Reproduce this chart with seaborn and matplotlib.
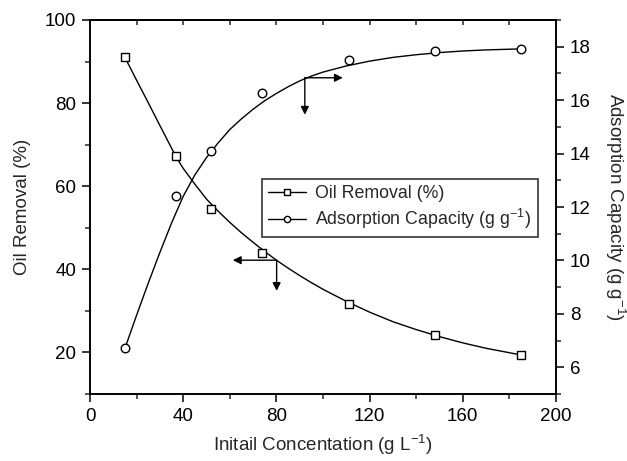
import matplotlib
matplotlib.use("Agg")
import matplotlib.pyplot as plt
import seaborn as sns
import pandas as pd
from matplotlib.lines import Line2D
from matplotlib.ticker import MultipleLocator

# ---- data ----
conc = [15, 37, 52, 74, 111, 148, 185]
oil_removal = [91.0, 67.2, 54.4, 44.0, 31.6, 24.2, 19.4]
adsorption = [6.71, 12.41, 14.09, 16.25, 17.49, 17.85, 17.92]

# fitted curves as drawn in the reference
fit_x = [15, 20, 25, 30, 37, 40, 45, 50, 55, 60, 65, 70, 75, 80, 85, 90, 95, 100,
         110, 120, 130, 140, 150, 160, 170, 185]
fit_removal = [91.0, 85.5, 80.1, 74.6, 67.0, 64.3, 60.5, 56.9, 54.0, 51.3, 48.8, 46.5,
               44.3, 42.2, 40.3, 38.5, 36.8, 35.2, 32.3, 29.7, 27.4, 25.5, 23.8, 22.3,
               21.0, 19.4]
fit_x2 = [15, 20, 25, 30, 35, 40, 45, 50, 55, 60, 65, 70, 75, 80, 85, 90, 95, 100,
          110, 120, 130, 140, 150, 160, 170, 185]
fit_adsorption = [6.71, 7.95, 9.15, 10.3, 11.4, 12.4, 13.2, 13.85, 14.4, 14.9, 15.3,
                  15.66, 15.98, 16.25, 16.5, 16.72, 16.9, 17.05, 17.28, 17.46, 17.6,
                  17.7, 17.78, 17.84, 17.88, 17.92]

# arrow annotations (left-axis units): corner, horizontal end, vertical end
arrow_ads = (92.2, 86.1, 108.5, 77.2)
arrow_oil = (80.1, 42.2, 61.3, 34.8)

xlabel = "Initail Concentation (g L$^{-1}$)"
ylabel_left = "Oil Removal (%)"
ylabel_right = "Adsorption Capacity (g g$^{-1}$)"
leg_labels = ["Oil Removal (%)", "Adsorption Capacity (g g$^{-1}$)"]

sns.set_style("ticks")
plt.rcParams["font.family"] = ["Liberation Sans", "DejaVu Sans"]
plt.rcParams["mathtext.fontset"] = "custom"
plt.rcParams["mathtext.rm"] = "Liberation Sans"
plt.rcParams["mathtext.it"] = "Liberation Sans:italic"
plt.rcParams["mathtext.bf"] = "Liberation Sans:bold"

fig = plt.figure(figsize=(6.27, 4.61), dpi=100)
ax = fig.add_axes([90 / 627, 1 - 394 / 461, 466 / 627, 374 / 461])
ax2 = ax.twinx()

df_pts = pd.DataFrame({"x": conc, "r": oil_removal, "q": adsorption})
df_fit_r = pd.DataFrame({"x": fit_x, "r": fit_removal})
df_fit_q = pd.DataFrame({"x": fit_x2, "q": fit_adsorption})

sns.lineplot(data=df_fit_r, x="x", y="r", ax=ax, color="black", lw=1.0, sort=False)
sns.scatterplot(data=df_pts, x="x", y="r", ax=ax, marker="s", s=30, facecolor="white",
                edgecolor="black", linewidth=1.0, zorder=5)
sns.lineplot(data=df_fit_q, x="x", y="q", ax=ax2, color="black", lw=1.0, sort=False)
sns.scatterplot(data=df_pts, x="x", y="q", ax=ax2, marker="o", s=38, facecolor="white",
                edgecolor="black", linewidth=1.0, zorder=5)

ax.set_xlim(0, 200)
ax.set_ylim(10, 100)
ax2.set_ylim(5, 19)

ax.xaxis.set_major_locator(MultipleLocator(40))
ax.xaxis.set_minor_locator(MultipleLocator(20))
ax.yaxis.set_major_locator(MultipleLocator(20))
ax.yaxis.set_minor_locator(MultipleLocator(10))
ax2.yaxis.set_major_locator(MultipleLocator(2))
ax2.yaxis.set_minor_locator(MultipleLocator(1))

fs = 13.5
for a in (ax, ax2):
    for sp in a.spines.values():
        sp.set_linewidth(1.2)
        sp.set_color("black")
    a.tick_params(which="major", length=6, width=1.1, direction="out", labelsize=fs,
                  pad=4, colors="black")
    a.tick_params(which="minor", length=3.5, width=1.1, direction="out")

ax.set_yticks([20, 40, 60, 80, 100])
ax2.set_yticks([6, 8, 10, 12, 14, 16, 18])

top = ax.secondary_xaxis("top")
top.set_xticks([20, 40, 60, 80, 100, 120, 140, 160, 180])
top.tick_params(direction="in", length=3.5, width=1.1, labeltop=False)
top.set_xticklabels([])
top.spines["top"].set_linewidth(1.2)

ax.set_xlabel(xlabel, fontsize=fs, labelpad=6)
ax.set_ylabel(ylabel_left, fontsize=fs, labelpad=10)
ax2.set_ylabel(ylabel_right, fontsize=fs, rotation=270, labelpad=26)

arrow_kw = dict(arrowstyle="-|>", mutation_scale=12, lw=1.0, color="black",
                shrinkA=0, shrinkB=0)
for (cx, cy, hx, vy) in (arrow_ads, arrow_oil):
    ax.annotate("", xy=(hx, cy), xytext=(cx, cy), arrowprops=arrow_kw)
    ax.annotate("", xy=(cx, vy), xytext=(cx, cy), arrowprops=arrow_kw)

handles = [
    Line2D([], [], color="black", lw=1.0, marker="s", markersize=4.0,
           markerfacecolor="white", markeredgecolor="black"),
    Line2D([], [], color="black", lw=1.0, marker="o", markersize=4.5,
           markerfacecolor="white", markeredgecolor="black"),
]
leg = ax.legend(handles, leg_labels, loc="upper left",
                bbox_to_anchor=(172 / 466, 215 / 374), borderaxespad=0,
                frameon=True, fancybox=False, edgecolor="black", fontsize=12.8,
                handlelength=2.1, handletextpad=0.55, borderpad=0.35,
                labelspacing=0.25)
leg.get_frame().set_linewidth(1.2)
leg.set_zorder(10)

fig.savefig("out.png", dpi=100)
